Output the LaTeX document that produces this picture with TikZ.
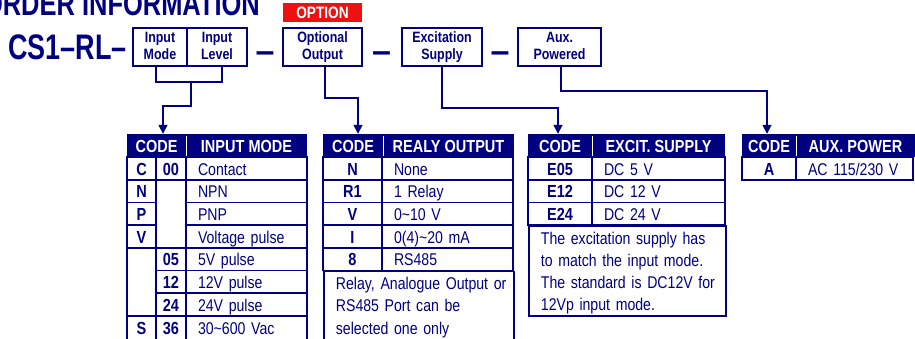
\documentclass[tikz,border=0pt]{standalone}
\usepackage{fontspec}
\setmainfont{Liberation Sans}[FakeStretch=0.83]
\newfontfamily\ordwide{Liberation Sans}
\newfontfamily\ordnarrow{Liberation Sans}[FakeStretch=0.76]
\usetikzlibrary{arrows.meta}
\definecolor{ordNavy}{HTML}{000080}
\definecolor{ordRed}{HTML}{EE1111}
\newcommand\ordsize[2]{\fontsize{#1}{#2}\selectfont}
\tikzset{
  ord title/.style={font=\ordnarrow\ordsize{33.5}{36}\bfseries, text=ordNavy, inner sep=0pt},
  ord part/.style={font=\ordnarrow\ordsize{35.5}{38}\bfseries, text=ordNavy, inner sep=0pt},
  ord dash/.style={font=\ordwide\ordsize{34}{36}\bfseries, text=ordNavy, inner sep=0pt, anchor=base},
  ord box/.style={draw=ordNavy, line width=1.8pt, align=center, font=\ordsize{15}{16.5}\bfseries, text=ordNavy,
    inner sep=0pt, minimum height=38pt, text height=27.5pt, text depth=3pt},
  ord flag/.style={fill=ordRed, text=white, font=\ordsize{16.5}{18}\bfseries, inner sep=0pt,
    minimum height=19pt, text height=11.5pt, text depth=0pt},
  ord head/.style={fill=ordNavy, text=white, font=\ordsize{17.5}{18}\bfseries, inner sep=0pt,
    minimum height=23pt, text height=14.5pt, text depth=0pt},
  ord split/.style={draw=white, line width=1.2pt},
  ord code/.style={draw=ordNavy, line width=1.8pt, font=\ordsize{17.5}{18}\bfseries, text=ordNavy, inner sep=0pt,
    minimum height=22.7pt, text height=13.5pt, text depth=0pt},
  ord desc/.style={draw=ordNavy, line width=1.8pt, font=\ordsize{17}{18}, text=ordNavy, inner ysep=0pt, inner xsep=12pt,
    align=left, minimum height=22.7pt, text height=13.5pt, text depth=0pt},
  ord note/.style={draw=ordNavy, line width=1.8pt, text=ordNavy, inner ysep=0pt, inner xsep=12pt,
    align=left, anchor=north west},
  ord link/.style={draw=ordNavy, line width=1.6pt},
  ord arrow/.style={ord link, -{Triangle[width=9pt,length=9pt]}},
}

\begin{document}
\begin{tikzpicture}[x=1pt, y=-1pt]
  \useasboundingbox (0,0) rectangle (915,338);

  % Heading and part number
  \node[ord title, anchor=base east] (title) at (260,15) {ORDER INFORMATION};
  \node[ord part, anchor=base west] (part) at (8,59) {CS1–RL–};

  % Order code boxes
  \node[ord box, minimum width=54pt] (inmode) at (160,47) {Input\\Mode};
  \node[ord box, minimum width=60pt] (inlevel) at (217,47) {Input\\Level};
  \node[ord dash] (dashA) at (265,62) {–};
  \node[ord box, minimum width=79pt] (optout) at (322.5,47) {Optional\\Output};
  \node[ord flag, minimum width=79pt] (option) at (322.5,12.5) {OPTION};
  \node[ord dash] (dashB) at (381.5,62) {–};
  \node[ord box, minimum width=80pt] (excit) at (442,47) {Excitation\\Supply};
  \node[ord dash] (dashC) at (500,62) {–};
  \node[ord box, minimum width=83pt] (aux) at (559.5,47) {Aux.\\Powered};

  % Input mode table
  \node[ord head, minimum width=59pt] (t1code) at (156.5,145.5) {CODE};
  \node[ord head, minimum width=121pt] (t1name) at (246.5,145.5) {INPUT MODE};
  \draw[ord split] ([yshift=-2pt]t1code.north east) -- ([yshift=1pt]t1code.south east);
  \foreach \r/\txt in {0/Contact,1/NPN,2/PNP,3/Voltage pulse,4/5V pulse,5/12V pulse,6/24V pulse}
    \node[ord desc, text width=97pt, minimum width=121pt] (t1d\r) at (246.5,{168.35+22.7*\r}) {\txt};
  \foreach \r/\txt in {0/C,1/N,2/P,3/V}
    \node[ord code, minimum width=29pt] (t1a\r) at (141.5,{168.35+22.7*\r}) {\txt};
  \foreach \r/\txt in {4/05,5/12,6/24}
    \node[ord code, minimum width=30pt] (t1b\r) at (171,{168.35+22.7*\r}) {\txt};
  \node[ord code, minimum width=30pt] (t1b0) at (171,168.35) {00};
  \node[ord code, minimum width=30pt, minimum height=68.1pt] (t1bx) at (171,213.75) {};
  \node[ord code, minimum width=29pt, minimum height=68.1pt] (t1ax) at (141.5,281.85) {};
  \node[ord code, minimum width=29pt, minimum height=24pt] (t1a7) at (141.5,327.9) {S};
  \node[ord code, minimum width=30pt, minimum height=24pt] (t1b7) at (171,327.9) {36};
  \node[ord desc, text width=97pt, minimum width=121pt, minimum height=24pt] (t1d7) at (246.5,327.9)
    {30\textasciitilde600 Vac};

  % Relay output table
  \node[ord head, minimum width=60pt] (t2code) at (353,145.5) {CODE};
  \node[ord head, minimum width=131pt] (t2name) at (448.5,145.5) {REALY OUTPUT};
  \draw[ord split] ([yshift=-2pt]t2code.north east) -- ([yshift=1pt]t2code.south east);
  \foreach \r/\cd/\txt in {0/N/None,1/R1/1 Relay,2/V/0\textasciitilde10 V,3/I/0(4)\textasciitilde20 mA,4/8/RS485} {
    \node[ord code, minimum width=59pt] (t2a\r) at (352.5,{168.35+22.7*\r}) {\cd};
    \node[ord desc, text width=107pt, minimum width=131pt] (t2d\r) at (447.5,{168.35+22.7*\r}) {\txt};
  }
  \node[ord note, font=\ordsize{17}{22.4}, text width=166pt, text height=17.8pt, text depth=58.8pt] (t2note)
    at (323,270.5) {\mbox{Relay, Analogue Output or}\\\mbox{RS485 Port can be}\\\mbox{selected one only}};

  % Excitation supply table
  \node[ord head, minimum width=64pt] (t3code) at (560,145.5) {CODE};
  \node[ord head, minimum width=133pt] (t3name) at (658.5,145.5) {EXCIT. SUPPLY};
  \draw[ord split] ([yshift=-2pt]t3code.north east) -- ([yshift=1pt]t3code.south east);
  \foreach \r/\cd/\txt in {0/E05/DC 5 V,1/E12/DC 12 V,2/E24/DC 24 V} {
    \node[ord code, minimum width=64pt] (t3a\r) at (560,{168.35+22.7*\r}) {\cd};
    \node[ord desc, text width=109pt, minimum width=133pt] (t3d\r) at (658.5,{168.35+22.7*\r}) {\txt};
  }
  \node[ord note, font=\ordsize{17}{21.7}, text width=173pt, text height=18.9pt, text depth=71pt] (t3note)
    at (528,225.1) {\mbox{The excitation supply has}\\\mbox{to match the input mode.}\\
    \mbox{The standard is DC12V for}\\\mbox{12Vp input mode.}};

  % Aux power table
  \node[ord head, minimum width=54pt] (t4code) at (769,145.5) {CODE};
  \node[ord head, minimum width=119pt] (t4name) at (855.5,145.5) {AUX. POWER};
  \draw[ord split] ([yshift=-2pt]t4code.north east) -- ([yshift=1pt]t4code.south east);
  \node[ord code, minimum width=54pt] (t4a0) at (769,168.35) {A};
  \node[ord desc, text width=93pt, minimum width=117pt] (t4d0) at (854.5,168.35) {AC 115/230 V};

  % Connectors
  \draw[ord link] ([xshift=-4pt]inmode.south) -- ++(0,15) -| ([xshift=5pt]inlevel.south);
  \coordinate (injoin) at (191,81);
  \draw[ord arrow] (injoin) -- ++(0,25) -| ([xshift=6.5pt]t1code.north);
  \draw[ord arrow] ([xshift=2.5pt]optout.south) -- ++(0,31) -| ([xshift=5pt]t2code.north);
  \draw[ord arrow] (excit.south) -- ++(0,41) -| ([xshift=-2pt]t3code.north);
  \draw[ord arrow] ([xshift=1.5pt]aux.south) -- ++(0,24) -| ([xshift=-2pt]t4code.north);
\end{tikzpicture}
\end{document}
